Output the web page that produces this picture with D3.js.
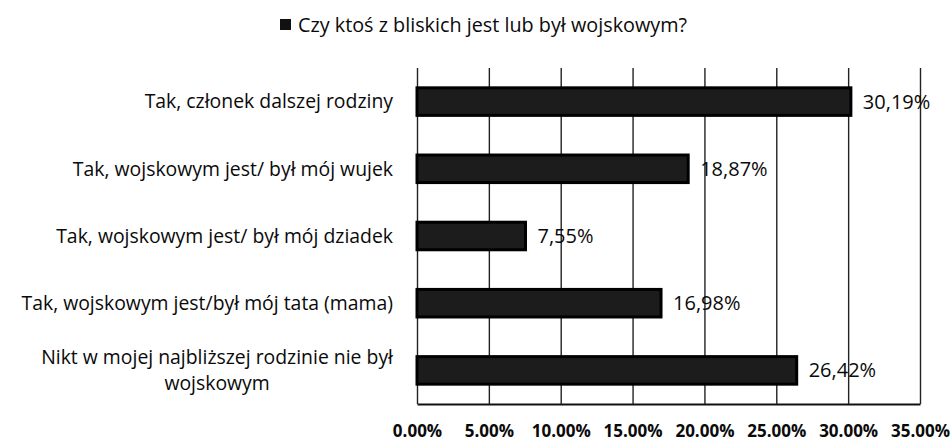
<!DOCTYPE html>
<html>
<head>
<meta charset="utf-8">
<script src="https://cdn.jsdelivr.net/npm/d3@7/dist/d3.min.js"></script>
<style>
    body { margin: 0; background: #fff; }
    svg text { font-family: "Open Sans", sans-serif; fill: #0a0a0a; }
</style>
</head>
<body>
<svg id="chart" width="952" height="443"></svg>
<script>
"use strict"

//chart data, top to bottom
const legend_label = "Czy ktoś z bliskich jest lub był wojskowym?";

const categories = [
    "Tak, członek dalszej rodziny",
    "Tak, wojskowym jest/ był mój wujek",
    "Tak, wojskowym jest/ był mój dziadek",
    "Tak, wojskowym jest/był mój tata (mama)",
    "Nikt w mojej najbliższej rodzinie nie był\nwojskowym"
];

const values = [30.19, 18.87, 7.55, 16.98, 26.42];

const tick_values = [0, 5, 10, 15, 20, 25, 30, 35];

class BarChart {

    constructor(svg_id) {
        let parent = this;

        parent.svg = d3.select('#' + svg_id);

        //plot area (gridlines run from top to bottom)
        parent.top = 68;
        parent.bottom = 404;
        parent.label_right = 393;

        parent.x = d3.scaleLinear()
            .domain([0, 35])
            .range([417, 920]);

        parent.y = d3.scaleBand()
            .domain(categories)
            .range([parent.top, parent.bottom])
            .paddingInner(0.59)
            .paddingOuter(0.295);
    }

    draw(parent) {
        parent.draw_axis(parent);
        parent.draw_bars(parent);
        parent.draw_labels(parent);
        parent.draw_legend(parent);
    }

    //vertical gridlines + bottom axis line with percent labels
    draw_axis(parent) {
        const axis = d3.axisBottom(parent.x)
            .tickValues(tick_values)
            .tickSizeInner(-(parent.bottom - parent.top))
            .tickSizeOuter(0)
            .tickPadding(21)
            .tickFormat(d => d.toFixed(2) + '%');

        const g = parent.svg.append('g')
            .attr('transform', 'translate(0,' + parent.bottom + ')')
            .call(axis);

        g.select('.domain')
            .attr('stroke', '#111')
            .attr('stroke-width', 2);

        g.selectAll('.tick line')
            .attr('stroke', '#222')
            .attr('stroke-width', 1.4);

        g.selectAll('.tick text')
            .style('font-family', '"Open Sans", sans-serif')
            .style('font-size', '17px')
            .style('font-weight', 'bold')
            .attr('fill', '#0a0a0a');
    }

    draw_bars(parent) {
        parent.svg.append('g')
            .selectAll('rect')
            .data(values)
            .join('rect')
            .attr('x', parent.x(0))
            .attr('y', (d, i) => parent.y(categories[i]))
            .attr('width', d => parent.x(d) - parent.x(0))
            .attr('height', parent.y.bandwidth())
            .attr('fill', '#1c1c1c')
            .attr('stroke', '#000')
            .attr('stroke-width', 3);

        //value labels, polish decimal comma
        parent.svg.append('g')
            .selectAll('text')
            .data(values)
            .join('text')
            .attr('x', d => parent.x(d) + 12)
            .attr('y', (d, i) => parent.y(categories[i]) + parent.y.bandwidth() / 2)
            .attr('dy', '0.35em')
            .style('font-size', '20px')
            .text(d => d.toFixed(2).replace('.', ',') + '%');
    }

    //category labels, multi-line ones are centred as a block that is right aligned
    draw_labels(parent) {
        const line_height = 26;

        categories.forEach(cat => {
            const lines = cat.split('\n');
            const cy = parent.y(cat) + parent.y.bandwidth() / 2;

            const txt = parent.svg.append('text')
                .attr('text-anchor', 'middle')
                .style('font-size', '19.4px');

            lines.forEach((line, i) => {
                txt.append('tspan')
                    .attr('y', cy + (i - (lines.length - 1) / 2) * line_height)
                    .attr('dy', '0.35em')
                    .text(line);
            });

            //find widest line so the block ends at label_right
            let max_w = 0;
            txt.selectAll('tspan').nodes().forEach(n => {
                max_w = Math.max(max_w, n.getComputedTextLength());
            });
            txt.selectAll('tspan').attr('x', parent.label_right - max_w / 2);
        });
    }

    draw_legend(parent) {
        parent.svg.append('rect')
            .attr('x', 280)
            .attr('y', 19)
            .attr('width', 11)
            .attr('height', 11)
            .attr('fill', '#111');

        parent.svg.append('text')
            .attr('x', 298)
            .attr('y', 25)
            .attr('dy', '0.35em')
            .style('font-size', '19.8px')
            .text(legend_label);
    }
}

const chart = new BarChart('chart');
chart.draw(chart);
</script>
</body>
</html>
